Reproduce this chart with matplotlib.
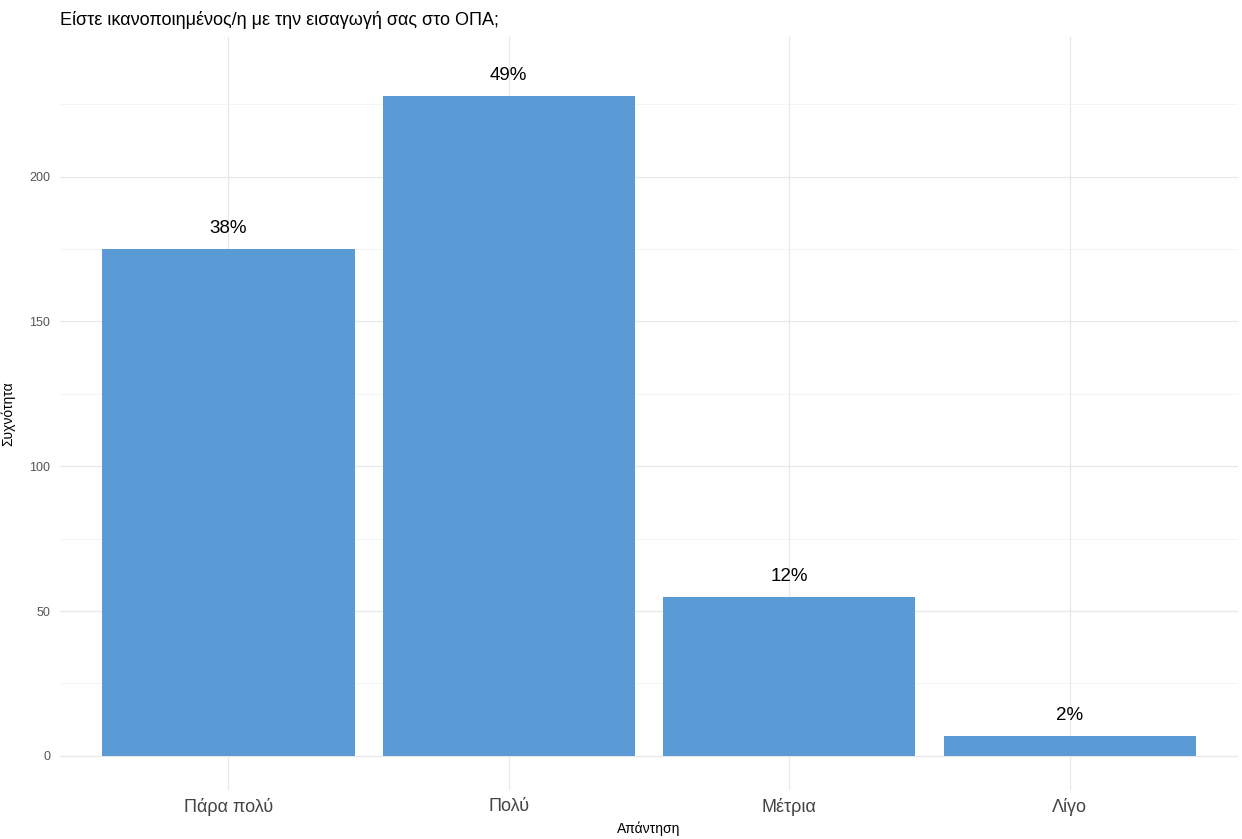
import matplotlib
matplotlib.use("Agg")
import matplotlib.pyplot as plt
from matplotlib.ticker import MultipleLocator

plt.rcParams['font.family'] = ['Liberation Sans', 'DejaVu Sans']

categories = ["Πάρα πολύ", "Πολύ", "Μέτρια", "Λίγο"]
counts = [175, 228, 55, 7]
labels = ["38%", "49%", "12%", "2%"]

title = "Είστε ικανοποιημένος/η με την εισαγωγή σας στο ΟΠΑ;"
xlabel = "Απάντηση"
ylabel = "Συχνότητα"

W, H = 1242, 839
fig = plt.figure(figsize=(W / 100, H / 100), dpi=100)
left, right, top, bottom = 60, 1238, 37, 790
ax = fig.add_axes([left / W, 1 - bottom / H, (right - left) / W, (bottom - top) / H])

x = list(range(1, len(categories) + 1))
ax.bar(x, counts, width=0.9, color="#5b9bd5", zorder=2)
for xi, c, lab in zip(x, counts, labels):
    ax.text(xi, c + 4, lab, ha="center", va="bottom", fontsize=13.5, color="black")

ax.set_xlim(0.4, 4.6)
ax.set_ylim(-11.8, 248.2)
ax.set_xticks(x)
ax.set_xticklabels(categories, fontsize=13, color="#444444")
ax.yaxis.set_major_locator(MultipleLocator(50))
ax.yaxis.set_minor_locator(MultipleLocator(25))
ax.tick_params(axis="both", length=0, which="both")
ax.tick_params(axis="y", labelsize=9, labelcolor="#555555", pad=7)
ax.tick_params(axis="x", pad=6)
ax.grid(True, which="major", color="#e8e8e8", linewidth=0.9, zorder=0)
ax.grid(True, which="minor", axis="y", color="#f2f2f2", linewidth=0.6, zorder=0)
ax.set_axisbelow(True)
for s in ax.spines.values():
    s.set_visible(False)

ax.set_xlabel(xlabel, fontsize=10, labelpad=2)
ax.set_ylabel(ylabel, fontsize=10, labelpad=6)
ax.yaxis.set_label_coords((15 - left) / (right - left), 0.5)
ax.xaxis.set_label_coords(0.5, (bottom - 821) / (bottom - top))
fig.text(left / W, 1 - 20 / H, title, fontsize=13, ha="left", va="center")

fig.savefig("out.png", dpi=100, facecolor="white")
